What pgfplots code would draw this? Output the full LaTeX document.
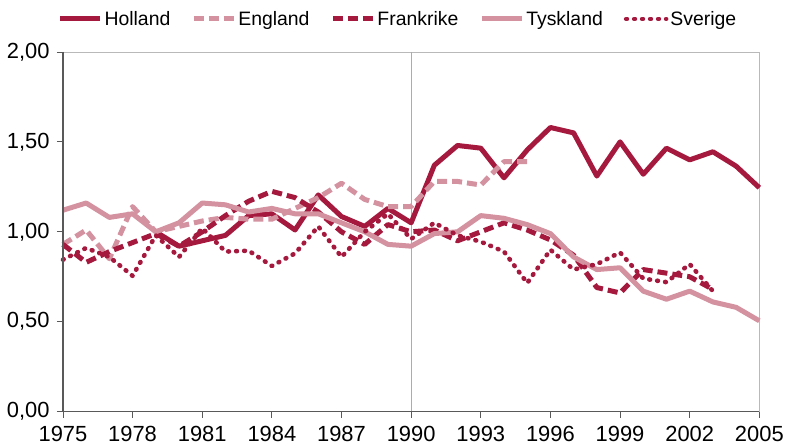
\documentclass[border=0pt]{standalone}
\usepackage{fontspec}
\setmainfont{Liberation Sans}
\usepackage{pgfplots}
\pgfplotsset{compat=1.18}
\definecolor{dark}{RGB}{166,25,62}
\definecolor{light}{RGB}{212,145,160}
\pgfplotstableread{
year val
1979 1.00
1980 0.92
1981 0.95
1982 0.98
1983 1.09
1984 1.10
1985 1.01
1986 1.205
1987 1.085
1988 1.03
1989 1.13
1990 1.05
1991 1.37
1992 1.48
1993 1.465
1994 1.30
1995 1.455
1996 1.58
1997 1.55
1998 1.31
1999 1.50
2000 1.32
2001 1.465
2002 1.40
2003 1.445
2004 1.365
2005 1.245
}\holland
\pgfplotstableread{
year val
1975 0.93
1976 1.01
1977 0.85
1978 1.14
1979 1.00
1980 1.03
1981 1.06
1982 1.08
1983 1.07
1984 1.07
1985 1.13
1986 1.19
1987 1.27
1988 1.18
1989 1.14
1990 1.14
1991 1.28
1992 1.28
1993 1.26
1994 1.39
1995 1.39
}\england
\pgfplotstableread{
year val
1975 0.93
1976 0.83
1977 0.89
1978 0.94
1979 0.99
1980 0.92
1981 1.00
1982 1.09
1983 1.17
1984 1.225
1985 1.19
1986 1.11
1987 1.00
1988 0.93
1989 1.04
1990 1.00
1991 1.01
1992 0.95
1993 1.00
1994 1.05
1995 1.01
1996 0.955
1997 0.87
1998 0.69
1999 0.66
2000 0.79
2001 0.77
2002 0.75
2003 0.68
}\frankrike
\pgfplotstableread{
year val
1975 1.12
1976 1.16
1977 1.08
1978 1.10
1979 1.00
1980 1.05
1981 1.16
1982 1.15
1983 1.11
1984 1.13
1985 1.10
1986 1.10
1987 1.05
1988 1.00
1989 0.93
1990 0.92
1991 0.99
1992 1.00
1993 1.09
1994 1.075
1995 1.04
1996 0.99
1997 0.86
1998 0.79
1999 0.80
2000 0.67
2001 0.625
2002 0.67
2003 0.61
2004 0.58
2005 0.505
}\tyskland
\pgfplotstableread{
year val
1975 0.845
1976 0.91
1977 0.86
1978 0.755
1979 0.98
1980 0.86
1981 1.02
1982 0.89
1983 0.895
1984 0.81
1985 0.88
1986 1.03
1987 0.86
1988 1.00
1989 1.10
1990 0.96
1991 1.05
1992 0.98
1993 0.945
1994 0.89
1995 0.715
1996 0.90
1997 0.79
1998 0.82
1999 0.885
2000 0.74
2001 0.72
2002 0.82
2003 0.67
}\sverige
\begin{document}
\begin{tikzpicture}
\begin{axis}[
  scale only axis, width=697bp, height=360bp,
  xmin=1975, xmax=2005, ymin=0, ymax=2,
  xtick={1975,1978,...,2005}, minor x tick num=2,
  ytick={0,0.5,1,1.5,2},
  xtick pos=left, ytick pos=left,
  tick align=outside,
  major tick length=6bp, minor tick length=6bp,
  every tick/.style={black!65, line width=0.8bp},
  axis line style={draw=gray!55, line width=0.8bp},
  tick label style={font=\fontsize{22}{26}\selectfont, /pgf/number format/assume math mode=true},
  xticklabel style={/pgf/number format/1000 sep={}, yshift=-5bp},
  yticklabel style={/pgf/number format/.cd, fixed, fixed zerofill, precision=2, use comma, /tikz/.cd, xshift=-4bp},
  legend style={draw=none, fill=none, at={(0.481,1.092)}, anchor=center,
    font=\fontsize{19.5}{22}\selectfont,
    /tikz/every even column/.append style={column sep=19bp}},
  legend columns=-1,
  legend image code/.code={\draw[#1] (0bp,0bp) -- (40bp,0bp);},
  clip=false,
  every axis plot/.append style={line join=round},
]
\coordinate (SW) at (rel axis cs:0,0);
\coordinate (NE) at (rel axis cs:1,1);
\draw[gray!65, line width=0.9bp] (axis cs:1990,0) -- (axis cs:1990,2);
\addplot[dark, line width=5bp] table[x=year,y=val] {\holland};
\addlegendentry{Holland}
\addplot[light, line width=5bp, dash pattern=on 10bp off 5bp] table[x=year,y=val] {\england};
\addlegendentry{England}
\addplot[dark, line width=5bp, dash pattern=on 10bp off 5bp] table[x=year,y=val] {\frankrike};
\addlegendentry{Frankrike}
\addplot[light, line width=5bp] table[x=year,y=val] {\tyskland};
\addlegendentry{Tyskland}
\addplot[dark, line width=4.6bp, line cap=round, dash pattern=on 0.8bp off 7.2bp] table[x=year,y=val] {\sverige};
\addlegendentry{Sverige}
\draw[black!65, line width=1.3bp] (rel axis cs:0,1) -- (rel axis cs:0,0) -- (rel axis cs:1,0);
\end{axis}
\path ([shift={(-63bp,-36bp)}]SW) rectangle ([shift={(27bp,52bp)}]NE);
\end{tikzpicture}
\end{document}
